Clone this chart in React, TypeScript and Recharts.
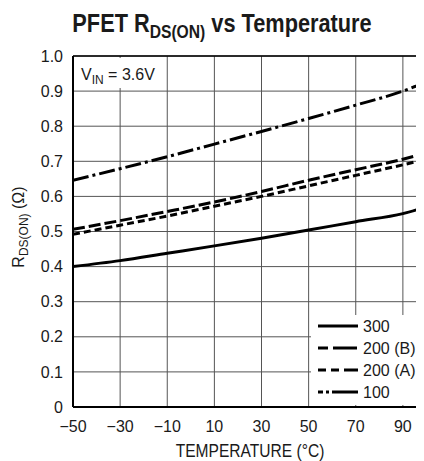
import React from 'react';
import { LineChart, Line, XAxis, YAxis, CartesianGrid, Legend, ReferenceLine } from 'recharts';

const temperatures = [-50, -30, -10, 10, 30, 50, 70, 90, 100];
const r300 = [0.4, 0.417, 0.438, 0.459, 0.481, 0.504, 0.528, 0.551, 0.57];
const r200B = [0.506, 0.531, 0.557, 0.584, 0.614, 0.646, 0.676, 0.706, 0.724];
const r200A = [0.492, 0.518, 0.544, 0.572, 0.6, 0.63, 0.66, 0.69, 0.706];
const r100 = [0.646, 0.679, 0.713, 0.749, 0.785, 0.822, 0.86, 0.9, 0.926];

const xTicks = [-50, -30, -10, 10, 30, 50, 70, 90];
const xGrid = [-50, -30, -10, 10, 30, 50, 70, 90, 110];
const yTicks = [0, 0.1, 0.2, 0.3, 0.4, 0.5, 0.6, 0.7, 0.8, 0.9, 1.0];

const seriesNames = ['300', '200 (B)', '200 (A)', '100'];

const data = temperatures.map((t, i) => ({
  t,
  s300: r300[i],
  s200B: r200B[i],
  s200A: r200A[i],
  s100: r100[i],
}));

const FONT = "'Liberation Sans', Arial, sans-serif";
const TEXT = '#1a1a1a';

const seriesStyles = [
  { key: 's300', dash: undefined, legendDash: undefined },
  { key: 's200B', dash: '12 4', legendDash: '10 5 24' },
  { key: 's200A', dash: '7 4', legendDash: '8 5 8 5 15' },
  { key: 's100', dash: '16 4 3 4', legendDash: '5 3 3 3 30' },
];

const renderLegend = () => (
  <svg width={109} height={90} style={{ display: 'block' }}>
    {seriesNames.map((name, i) => {
      const y = 11 + i * 22;
      return (
        <g key={name}>
          <line x1={7} x2={47} y1={y} y2={y} stroke="#000" strokeWidth={3} strokeDasharray={seriesStyles[i].legendDash} />
          <text x={52} y={y} dy="0.36em" fontFamily={FONT} fontSize={16} fill={TEXT}>{name}</text>
        </g>
      );
    })}
  </svg>
);

const fmtX = (v: number) => (v < 0 ? '\u2212' + Math.abs(v) : String(v));
const fmtY = (v: number) => (v === 0 ? '0' : v.toFixed(1));

export default function App() {
  return (
    <div style={{ position: 'relative', width: 416, height: 453, overflow: 'hidden', background: '#fff' }}>
      <LineChart width={460} height={453} data={data} margin={{ top: 48, right: 18, bottom: 0, left: 0 }}>
        <text
          transform="translate(214 24) scale(0.87 1)"
          x={0}
          y={0}
          textAnchor="middle"
          fontFamily={FONT}
          fontWeight="bold"
          fontSize={25}
          fill={TEXT}
        >
          PFET R<tspan fontSize={18} dy={6}>DS(ON)</tspan><tspan dy={-6}> vs Temperature</tspan>
        </text>
        <CartesianGrid stroke="#555" strokeWidth={1} horizontalValues={yTicks} verticalValues={xGrid} />
        <XAxis
          dataKey="t"
          type="number"
          domain={[-50, 110]}
          ticks={xTicks}
          tickFormatter={fmtX}
          tickLine={false}
          tickMargin={8}
          height={54}
          axisLine={{ stroke: '#000', strokeWidth: 2 }}
          tick={{ fontFamily: FONT, fontSize: 16, fill: TEXT }}
          interval={0}
          allowDataOverflow
        />
        <YAxis
          type="number"
          domain={[0, 1]}
          ticks={yTicks}
          tickFormatter={fmtY}
          tickLine={false}
          tickMargin={4}
          width={65}
          axisLine={{ stroke: '#000', strokeWidth: 2 }}
          tick={{ fontFamily: FONT, fontSize: 16, fill: TEXT }}
          interval={0}
          allowDataOverflow
        />
        <ReferenceLine y={1} stroke="#000" strokeWidth={1.5} />
        {seriesStyles.map((s, i) => (
          <Line
            key={s.key}
            name={seriesNames[i]}
            dataKey={s.key}
            type="monotone"
            stroke="#000"
            strokeWidth={3}
            strokeDasharray={s.dash}
            dot={false}
            activeDot={false}
            isAnimationActive={false}
          />
        ))}
        <rect x={66} y={50} width={86} height={30} fill="#fff" />
        <text x={73} y={72} fontFamily={FONT} fontSize={16} fill={TEXT}>
          V<tspan fontSize={12} dy={4}>IN</tspan><tspan dy={-4}> = 3.6V</tspan>
        </text>
        <text
          transform="translate(16 219) rotate(-90)"
          textAnchor="middle"
          fontFamily={FONT}
          fontSize={16}
          fill={TEXT}
        >
          R<tspan fontSize={12} dy={4}>DS(ON)</tspan><tspan dy={-4}> (Ω)</tspan>
        </text>
        <text
          transform="translate(242 449) scale(0.82 1)"
          x={0}
          y={0}
          textAnchor="middle"
          fontFamily={FONT}
          fontSize={19}
          fill={TEXT}
        >
          TEMPERATURE (°C)
        </text>
        <Legend
          verticalAlign="middle"
          align="center"
          layout="horizontal"
          wrapperStyle={{ left: 303, top: 307, width: 109, height: 90, background: '#fff', margin: 0, padding: 0 }}
          content={renderLegend}
        />
      </LineChart>
    </div>
  );
}
